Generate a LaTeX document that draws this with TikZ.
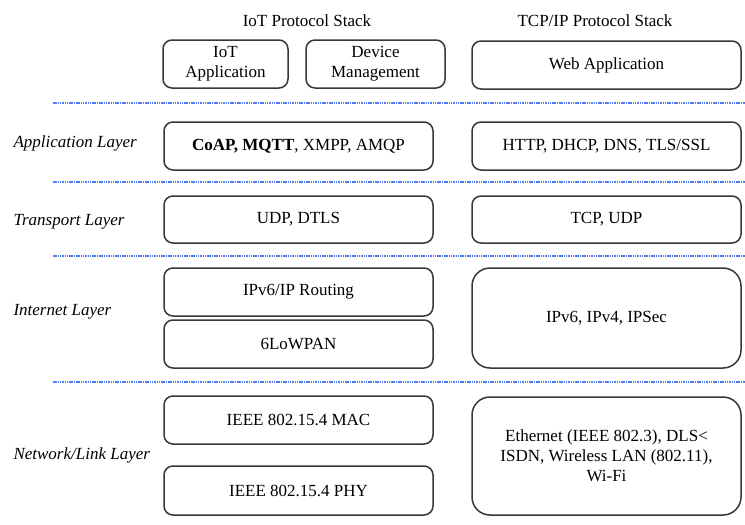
\documentclass[tikz,border=0pt]{standalone}
\usepackage{fontspec}
\setmainfont{Liberation Serif}
\definecolor{boxline}{RGB}{55,55,55}
\definecolor{sepblue}{RGB}{80,125,235}
\begin{document}
\begin{tikzpicture}[x=1pt,y=-1pt,
  layerbox/.style={draw=boxline,line width=1.5pt,rounded corners=9pt,align=center,inner sep=0pt,
    font=\fontsize{17}{20}\selectfont},
  bigbox/.style={layerbox,rounded corners=18pt},
  title/.style={font=\fontsize{17}{20}\selectfont},
  layerlabel/.style={anchor=west,font=\fontsize{17}{20}\selectfont\itshape},
  sep/.style={draw=sepblue,line width=1.3pt,dash pattern=on 1.5pt off 0.8pt}]
\useasboundingbox (0,0) rectangle (745,525);
% titles
\node[title] (t1) at (307,21) {IoT Protocol Stack};
\node[title] (t2) at (595,21) {TCP/IP Protocol Stack};
% top row
\node[layerbox,minimum width=125pt,minimum height=48pt] (iotapp) at (225.5,64) {IoT\\Application};
\node[layerbox,minimum width=139pt,minimum height=48pt] (devmgmt) at (375.5,64) {Device\\Management};
\node[layerbox,minimum width=269pt,minimum height=48pt] (webapp) at (606.5,65) {Web Application};
% application layer
\node[layerbox,minimum width=269pt,minimum height=48pt] (coap) at (298.5,146) {\textbf{CoAP, MQTT}, XMPP, AMQP};
\node[layerbox,minimum width=269pt,minimum height=48pt] (http) at (606.5,146) {HTTP, DHCP, DNS, TLS/SSL};
% transport layer
\node[layerbox,minimum width=269pt,minimum height=47pt] (udp) at (298.5,219.5) {UDP, DTLS};
\node[layerbox,minimum width=269pt,minimum height=47pt] (tcp) at (606.5,219.5) {TCP, UDP};
% internet layer
\node[layerbox,minimum width=269pt,minimum height=48pt] (ipv6r) at (298.5,292) {IPv6/IP Routing};
\node[layerbox,minimum width=269pt,minimum height=48pt] (lowpan) at (298.5,344) {6LoWPAN};
\node[bigbox,minimum width=269pt,minimum height=100pt] (ipv6) at (606.5,318) {IPv6, IPv4, IPSec};
% network/link layer
\node[layerbox,minimum width=269pt,minimum height=48pt] (mac) at (298.5,420) {IEEE 802.15.4 MAC};
\node[layerbox,minimum width=269pt,minimum height=49pt] (phy) at (298.5,490.5) {IEEE 802.15.4 PHY};
\node[bigbox,minimum width=269pt,minimum height=118pt] (eth) at (606.5,456) {Ethernet (IEEE 802.3), DLS<\\ISDN, Wireless LAN (802.11),\\Wi-Fi};
% separators
\coordinate (s1a) at (53,103); \coordinate (s1b) at (745,103);
\coordinate (s2a) at (53,182); \coordinate (s2b) at (745,182);
\coordinate (s3a) at (53,256); \coordinate (s3b) at (745,256);
\coordinate (s4a) at (53,382); \coordinate (s4b) at (745,382);
\draw[sep] (s1a) -- (s1b);
\draw[sep] (s2a) -- (s2b);
\draw[sep] (s3a) -- (s3b);
\draw[sep] (s4a) -- (s4b);
% layer labels
\node[layerlabel] (lapp) at (10,143) {Application Layer};
\node[layerlabel] (ltr) at (10,222) {Transport Layer};
\node[layerlabel] (lint) at (10,312) {Internet Layer};
\node[layerlabel] (lnet) at (10,455) {Network/Link Layer};
\end{tikzpicture}
\end{document}
